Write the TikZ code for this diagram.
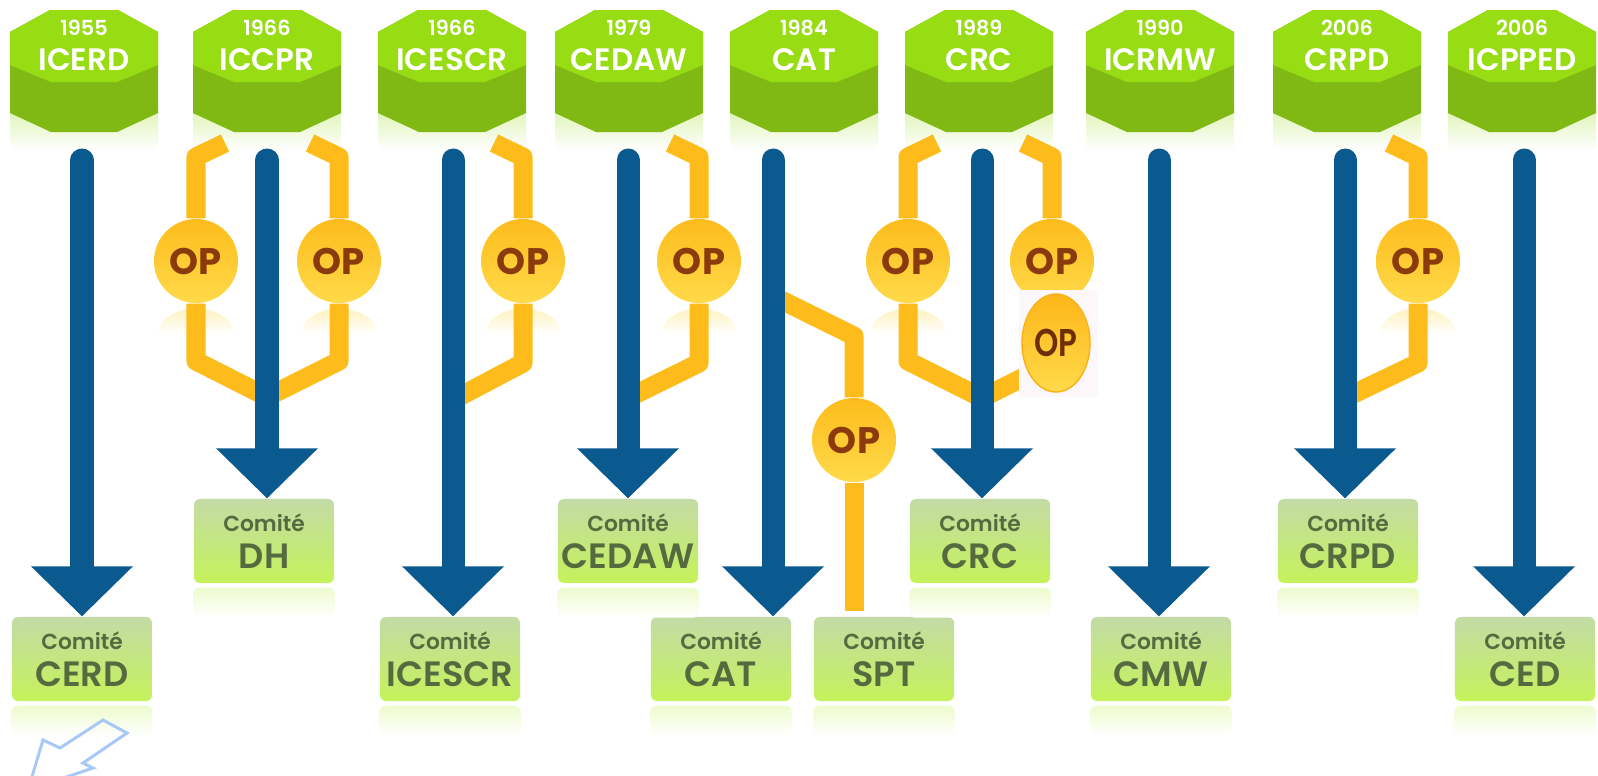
\documentclass[tikz,border=0pt]{standalone}
\usepackage{fontspec}
\setmainfont{Poppins}
\newfontfamily\popsemi{Poppins SemiBold}
\usetikzlibrary{positioning, shapes.geometric, arrows.meta, calc}

\definecolor{hexlight}{HTML}{98DC14}
\definecolor{hexdark}{HTML}{80B814}
\definecolor{shaftblue}{HTML}{0B5A8F}
\definecolor{opyellow}{HTML}{FDBC1C}
\definecolor{oplight}{HTML}{FFDA4A}
\definecolor{optext}{HTML}{8A3A0C}
\definecolor{boxtop}{HTML}{C3DBA6}
\definecolor{boxbottom}{HTML}{C5F25A}
\definecolor{boxtext}{HTML}{566A40}
\definecolor{ghostblue}{HTML}{A8C8F6}

\newcommand{\comite}[1]{{\fontsize{6.2}{7}\selectfont Comit\'e}\\#1}

\begin{document}
\begin{tikzpicture}[x=0.01cm, y=-0.01cm,
  yeartext/.style={text=white, font=\popsemi\fontsize{5.9}{6}\selectfont, inner sep=0pt},
  treatytext/.style={text=white, font=\popsemi\fontsize{8.8}{9}\selectfont, inner sep=0pt},
  committee/.style={rectangle, rounded corners=0.06cm, minimum width=1.4cm, minimum height=0.84cm,
    top color=boxtop, bottom color=boxbottom, align=center, text=boxtext, inner sep=0pt,
    font=\popsemi\fontsize{10}{10.6}\selectfont},
  op/.style={circle, minimum size=0.84cm, top color=opyellow, bottom color=oplight, text=optext,
    font=\bfseries\fontsize{10.5}{11}\selectfont, inner sep=0pt},
  opline/.style={draw=opyellow, line width=0.19cm, line join=round},
  shaft/.style={draw=shaftblue, line width=0.23cm, line cap=round,
    -{Triangle[width=1.02cm, length=0.5cm, line width=0pt]}}]
  \useasboundingbox (0,0) rectangle (1598,775);
  \clip (0,0) rectangle (1598,775);

  % treaties
  \foreach \cx/\yr/\tr/\nm in {84/1955/ICERD/icerd, 267/1966/ICCPR/iccpr, 452/1966/ICESCR/icescr,
      629/1979/CEDAW/cedaw, 804/1984/CAT/cat, 979/1989/CRC/crc, 1160/1990/ICRMW/icrmw,
      1347/2006/CRPD/crpd, 1522/2006/ICPPED/icpped}{
    \shade[top color=hexlight!35, bottom color=white] (\cx-74,105) rectangle (\cx+74,150);
    \fill[hexdark] (\cx-34,10) -- (\cx+34,10) -- (\cx+74,32) -- (\cx+74,113) -- (\cx+33,132)
      -- (\cx-33,132) -- (\cx-74,113) -- (\cx-74,32) -- cycle;
    \fill[hexlight] (\cx-34,10) -- (\cx+34,10) -- (\cx+74,32) -- (\cx+74,65) -- (\cx+33,82)
      -- (\cx-33,82) -- (\cx-74,65) -- (\cx-74,32) -- cycle;
    \node[yeartext] (y\nm) at (\cx,28) {\yr};
    \node[treatytext] (h\nm) at (\cx,60) {\tr};
  }

  % committees
  \node[committee] (ccerd) at (82,659) {\comite{CERD}};
  \node[committee] (cdh) at (264,541) {\comite{DH}};
  \node[committee] (cicescr) at (450,659) {\comite{ICESCR}};
  \node[committee] (ccedaw) at (628,541) {\comite{CEDAW}};
  \node[committee] (ccat) at (721,659) {\comite{CAT}};
  \node[committee] (cspt) at (884,659) {\comite{SPT}};
  \node[committee] (ccrc) at (980,541) {\comite{CRC}};
  \node[committee] (ccmw) at (1161,659) {\comite{CMW}};
  \node[committee] (ccrpd) at (1348,541) {\comite{CRPD}};
  \node[committee] (cced) at (1525,659) {\comite{CED}};
  \foreach \c in {ccerd, cdh, cicescr, ccedaw, ccat, cspt, ccrc, ccmw, ccrpd, cced}
    \shade[top color=boxbottom!30, bottom color=white, rounded corners=0.06cm]
      ($(\c.south west)+(0,4)$) rectangle ($(\c.south east)+(0,34)$);

  % optional protocols
  \node[op] (opiccpr1) at (196,261) {OP};
  \node[op] (opiccpr2) at (339,261) {OP};
  \node[op] (opicescr) at (523,261) {OP};
  \node[op] (opcedaw) at (699,261) {OP};
  \node[op] (opcrc1) at (908,261) {OP};
  \node[op] (opcrc2) at (1052,261) {OP};
  \node[op] (opcrpd) at (1418,261) {OP};
  \node[op] (opcat) at (854,440) {OP};
  \foreach \c in {opiccpr1, opiccpr2, opicescr, opcedaw, opcrc1, opcrpd}
    \shade[top color=oplight!35, bottom color=white]
      ($(\c.south)+(-38,30)$) arc[start angle=180, end angle=360, x radius=38, y radius=25] -- cycle;

  \coordinate (sicerd) at (82,160);
  \coordinate (siccpr) at (267,160);
  \coordinate (sicescr) at (453,160);
  \coordinate (scedaw) at (628,160);
  \coordinate (scat) at (773,160);
  \coordinate (scrc) at (982,160);
  \coordinate (sicrmw) at (1159,160);
  \coordinate (scrpd) at (1345,160);
  \coordinate (sicpped) at (1524,160);

  \draw[opline] ($(opiccpr1)+(29,-118)$) -- ($(opiccpr1)+(0,-104)$) -- (opiccpr1.north);
  \draw[opline] (opiccpr1.south) -- ($(opiccpr1)+(0,100)$) -- ($(siccpr)+(0,237)$)
    -- ($(opiccpr2)+(0,100)$) -- (opiccpr2.south);
  \draw[opline] ($(opiccpr2)+(-29,-118)$) -- ($(opiccpr2)+(0,-104)$) -- (opiccpr2.north);
  \draw[opline] ($(opicescr)+(-29,-118)$) -- ($(opicescr)+(0,-104)$) -- (opicescr.north);
  \draw[opline] (opicescr.south) -- ($(opicescr)+(0,102)$) -- ($(sicescr)+(0,240)$);
  \draw[opline] ($(opcedaw)+(-29,-118)$) -- ($(opcedaw)+(0,-104)$) -- (opcedaw.north);
  \draw[opline] (opcedaw.south) -- ($(opcedaw)+(0,102)$) -- ($(scedaw)+(0,238)$);
  \draw[opline] ($(scat)+(0,136)$) -- ($(opcat)+(0,-104)$) -- (opcat.north);
  \draw[opline, shorten >=0.05cm] (opcat.south) -- (opcat.south |- cspt.north);
  \draw[opline] ($(opcrc1)+(29,-118)$) -- ($(opcrc1)+(0,-104)$) -- (opcrc1.north);
  \draw[opline] (opcrc1.south) -- ($(opcrc1)+(0,100)$) -- ($(scrc)+(0,238)$);
  \draw[opline] ($(opcrc2)+(-29,-118)$) -- ($(opcrc2)+(0,-104)$) -- (opcrc2.north);
  \draw[opline] (opcrc2.south) -- ($(opcrc2)+(0,102)$) -- ($(scrc)+(0,238)$);
  \draw[opline] ($(opcrpd)+(-29,-118)$) -- ($(opcrpd)+(0,-104)$) -- (opcrpd.north);
  \draw[opline] (opcrpd.south) -- ($(opcrpd)+(0,102)$) -- ($(scrpd)+(0,238)$);

  % pasted OP
  \fill[white!97!violet] (1019,290) rectangle (1098,397);
  \node[ellipse, minimum width=0.68cm, minimum height=0.98cm, inner sep=0pt, draw=opyellow!80!orange,
    line width=0.4pt, top color=opyellow!90!orange, bottom color=oplight, text=optext!80!black,
    font=\popsemi\fontsize{11}{11}\selectfont] (opcrc3) at (1056,343) {\scalebox{0.8}[1]{OP}};

  % monitoring
  \draw[shaft] (sicerd) -- (sicerd |- ccerd.north);
  \draw[shaft] (siccpr) -- (siccpr |- cdh.north);
  \draw[shaft] (sicescr) -- (sicescr |- cicescr.north);
  \draw[shaft] (scedaw) -- (scedaw |- ccedaw.north);
  \draw[shaft] (scat) -- (scat |- ccat.north);
  \draw[shaft] (scrc) -- (scrc |- ccrc.north);
  \draw[shaft] (sicrmw) -- (sicrmw |- ccmw.north);
  \draw[shaft] (scrpd) -- (scrpd |- ccrpd.north);
  \draw[shaft] (sicpped) -- (sicpped |- cced.north);

  \draw[ghostblue, line width=0.03cm] (103,720) -- (127,733) -- (83,763) -- (93,768) -- (28,790)
    -- (43,740) -- (60,748) -- cycle;
\end{tikzpicture}
\end{document}
